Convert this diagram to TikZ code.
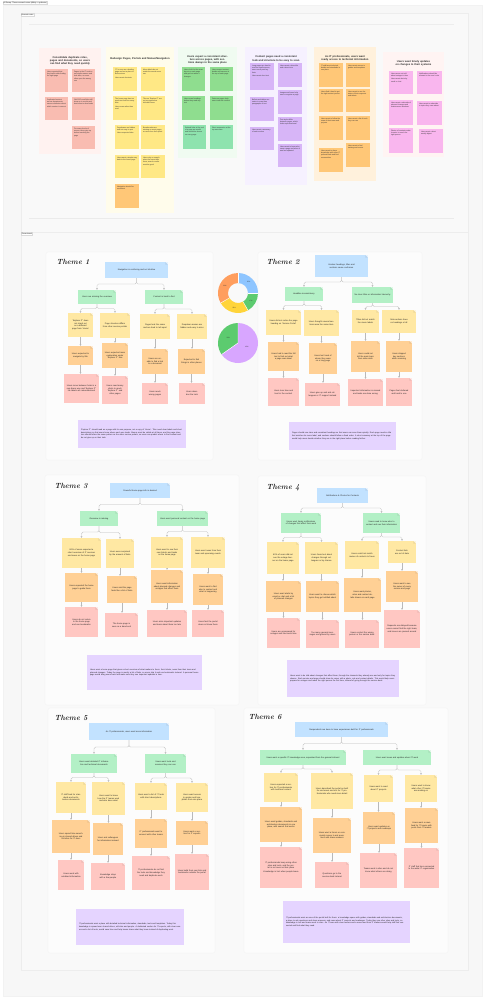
\documentclass[tikz,border=0pt]{standalone}
\usepackage{fontspec}
\setsansfont{Liberation Sans}
\usetikzlibrary{calc,arrows.meta,shadows}
\definecolor{cBlue}{HTML}{C2E2FF}
\definecolor{cGreen}{HTML}{B3F0C6}
\definecolor{cYellow}{HTML}{FFE8A3}
\definecolor{cOrange}{HTML}{FFD095}
\definecolor{cRed}{HTML}{FFC7C2}
\definecolor{cPurple}{HTML}{E5D4FF}
\definecolor{sSalmon}{HTML}{F9BCB1}
\definecolor{sYellow}{HTML}{FFE885}
\definecolor{sGreen}{HTML}{8FDD8F}
\definecolor{sTeal}{HTML}{8EE3AE}
\definecolor{sPurple}{HTML}{D7B5F7}
\definecolor{sOrange}{HTML}{FFC777}
\definecolor{sPink}{HTML}{F9B6EE}
\definecolor{bSalmon}{HTML}{FFF2F0}
\definecolor{bYellow}{HTML}{FFFCEB}
\definecolor{bGreen}{HTML}{F0FBF1}
\definecolor{bPurple}{HTML}{F6F1FF}
\definecolor{bOrange}{HTML}{FFF1DC}
\definecolor{bPink}{HTML}{FFF4F3}
\definecolor{pageBg}{HTML}{F7F7F7}
\definecolor{secBg}{HTML}{F9F9F9}
\definecolor{panBg}{HTML}{FCFCFC}
\definecolor{dBlue}{HTML}{8EC5FF}
\definecolor{dGreen}{HTML}{5CCB6F}
\definecolor{dYellow}{HTML}{FFD43B}
\definecolor{dOrange}{HTML}{FF9E5E}
\definecolor{dPurple}{HTML}{D8A6FF}
\tikzset{
  tnode/.style={rectangle, inner sep=1pt, align=center, text=black!85,
    font=\sffamily\fontsize{2.1}{2.7}\selectfont,
    general shadow={fill=black,opacity=.07,shadow xshift=.3pt,shadow yshift=-.4pt},
    path picture={
      \fill[white,opacity=.6] ([xshift=-2.6pt]path picture bounding box.north east) -- (path picture bounding box.north east) -- ([yshift=-2.6pt]path picture bounding box.north east) -- cycle;
      \fill[black,opacity=.07] ([xshift=-2.6pt]path picture bounding box.north east) -- ([yshift=-2.6pt]path picture bounding box.north east) -- ([xshift=-2.6pt,yshift=-2.6pt]path picture bounding box.north east) -- cycle;}},
  snode/.style={rectangle, inner sep=2pt, text=black!80,
    font=\sffamily\fontsize{1.8}{2.3}\selectfont,
    general shadow={fill=black,opacity=.07,shadow xshift=.3pt,shadow yshift=-.4pt}},
  ctitle/.style={anchor=north, align=center, text=black!85, font=\sffamily\bfseries\fontsize{2.6}{3.2}\selectfont},
  pnote/.style={rectangle, fill=cPurple, inner sep=3pt, align=left, text=black!85, font=\sffamily\fontsize{2}{2.6}\selectfont},
  theme/.style={anchor=west, font=\rmfamily\bfseries\itshape\fontsize{7.5}{8}\selectfont, text=black!85},
  panel/.style={fill=panBg, draw=black!6, line width=.3pt, rounded corners=1.5pt},
  conn/.style={draw=gray!55, line width=.35pt, rounded corners=1.5pt, -{Stealth[length=1.7pt,width=1.7pt]}},
  treeto/.style={to path={(\tikztostart) |- ($(\tikztostart)!.5!(\tikztotarget)$) -| (\tikztotarget)}},
  tinylab/.style={font=\sffamily\fontsize{1.6}{2}\selectfont, text=black!80},
}
\newcommand\tn[7]{%
  \pgfmathsetmacro\mynw{#4-#2}\pgfmathsetmacro\mynh{#5-#3}\pgfmathsetmacro\mytw{#4-#2-5}%
  \node[tnode,fill=#6,minimum width=\mynw pt,minimum height=\mynh pt,text width=\mytw pt] (#1) at ({(#2+#4)/2},{(#3+#5)/2}) {#7};}
\newcommand\sn[7]{%
  \pgfmathsetmacro\mynw{#4-#2}\pgfmathsetmacro\mynh{#5-#3-4}\pgfmathsetmacro\mytw{#4-#2-4}%
  \node[snode,fill=#6,minimum width=\mynw pt,minimum height=\mynh pt+4pt] (#1) at ({(#2+#4)/2},{(#3+#5)/2}) {\parbox[c][\mynh pt][t]{\mytw pt}{\raggedright #7}};}
\newcommand\pn[6]{%
  \pgfmathsetmacro\mynw{#4-#2}\pgfmathsetmacro\mynh{#5-#3}\pgfmathsetmacro\mytw{#4-#2-6}%
  \node[pnote,minimum width=\mynw pt,minimum height=\mynh pt,text width=\mytw pt] (#1) at ({(#2+#4)/2},{(#3+#5)/2}) {#6};}
\newcommand\tr[2]{\draw[conn] (#1.south) to[treeto] (#2.north);}
\newcommand\vl[2]{\draw[conn] (#1.south) -- (#1.south |- #2.north);}
\begin{document}
\begin{tikzpicture}[x=1pt,y=-1pt]
\useasboundingbox (0,0) rectangle (486,1000);
\fill[white] (0,0) rectangle (486,1000);
% page frame
\path[fill=pageBg, draw=black!5, line width=.3pt] (3,5) rectangle (482,996);
\node[draw=black!15, fill=white, line width=.2pt, inner sep=.6pt, anchor=north west, font=\sffamily\fontsize{1.8}{2}\selectfont] (hdr) at (3,1) {AI Recap: Theme research notes (affinity + synthesis)};
% section 1
\path[fill=secBg, draw=black!7, line width=.3pt] (21,13) rectangle (468,232);
\node[draw=black!15, fill=white, line width=.2pt, inner sep=.5pt, anchor=north west, font=\sffamily\fontsize{1.7}{2}\selectfont] (lab1) at (21,13.5) {Research notes};
\draw[black!7, line width=.3pt] (29,24) -- (454,24);
\draw[black!8, line width=.3pt] (29,218) -- (454,218);
% section 2
\path[fill=secBg, draw=black!7, line width=.3pt] (21,232) rectangle (468,970);
\node[draw=black!15, fill=white, line width=.2pt, inner sep=.5pt, anchor=north west, font=\sffamily\fontsize{1.7}{2}\selectfont] (lab2) at (21,232.5) {Theme board};

% ================= TOP CLUSTERS =================
% cluster 1
\fill[bSalmon] (39,48) rectangle (101,154);
\node[ctitle,text width=58pt] (c1t) at (70,53) {Consolidate duplicate roles, pages and documents, so users can find what they need quickly};
\sn{c1a}{45}{69}{68}{92}{sSalmon}{Users reported that they had trouble finding the right page}
\sn{c1b}{72}{69}{95}{92}{sSalmon}{Pages in the IT section use similar names and look alike, so users often open the wrong one}
\sn{c1c}{45}{97}{68}{120}{sSalmon}{Duplicated content across departments causes confusion about which version is current}
\sn{c1d}{72}{97}{95}{120}{sSalmon}{Old PDFs and links still show up in results and lead users to dead ends}
\sn{c1e}{72}{126}{95}{149}{sSalmon}{Too many levels of menus; users give up before reaching the page}
% cluster 2
\fill[bYellow] (106,47) rectangle (174,213);
\node[ctitle,text width=64pt] (c2t) at (140,54) {Redesign Pages, Portals and Menus/Navigation};
\sn{c2a}{113}{67}{137}{91}{sYellow}{'IT' is seen as a landing page and not a place to find services\\[1pt] Users want shortcuts}
\sn{c2b}{141}{67}{165}{91}{sYellow}{Menu labels do not match the words users use}
\sn{c2c}{113}{96}{137}{120}{sYellow}{The home page has too much text and too many links\\[1pt] Users scan rather than read}
\sn{c2d}{141}{96}{165}{120}{sYellow}{Tiles on 'Explore IT' are not recognised as clickable items}
\sn{c2e}{115}{125}{139}{149}{sYellow}{Dropdowns are hidden and not easy to spot\\[1pt] Users expected tabs}
\sn{c2f}{141}{125}{165}{149}{sYellow}{Breadcrumbs are missing on most pages, so users lose their place}
\sn{c2g}{115}{155}{139}{178}{sYellow}{Users want a simple way back to the home page}
\sn{c2h}{141}{155}{165}{178}{sYellow}{Users rely on search when the menu fails them; search results must be good}
\sn{c2i}{115}{184}{139}{208}{sOrange}{Navigation should be consistent}
% cluster 3
\fill[bGreen] (178,47) rectangle (237,158);
\node[ctitle,text width=56pt] (c3t) at (207.5,52) {Users expect a consistent structure across pages, with sections always in the same place};
\sn{c3a}{182}{67}{205}{91}{sGreen}{Users look for the same layout on each page and get lost when it changes}
\sn{c3b}{210}{67}{233}{91}{sGreen}{Users expect contact details and owners at the top of each page}
\sn{c3c}{182}{96}{205}{120}{sGreen}{Users scan headings before they read any text}
\sn{c3d}{210}{96}{233}{120}{sGreen}{Dates on pages help users trust the content}
\sn{c3e}{183}{125}{206}{149}{sTeal}{Related links at the end of a page are useful and should be shown on every page}
\sn{c3f}{210}{125}{233}{149}{sTeal}{Short summaries at the top save time}
% cluster 4
\fill[bPurple] (245,47) rectangle (307,185);
\node[ctitle,text width=58pt] (c4t) at (276,52.5) {Content pages need a consistent look and structure to be easy to scan};
\sn{c4a}{250}{63}{274}{90}{sPurple}{Long pages are hard to read on small screens; users scroll past key facts\\[1pt] Users want short text}
\sn{c4b}{278}{63}{302}{87}{sPurple}{Users want a clear title and a short intro}
\sn{c4c}{250}{97}{274}{121}{sPurple}{Bullets and tables are easier to scan than paragraphs of text}
\sn{c4d}{278}{90}{302}{114}{sPurple}{Images and icons help users recognise a page}
\sn{c4e}{250}{127}{274}{150}{sPurple}{Users want a summary of each section}
\sn{c4f}{278}{117}{302}{141}{sPurple}{Text styles differ between pages, which looks unprofessional}
\sn{c4g}{278}{144}{302}{167}{sPurple}{Users want to know who owns a page and when it was last updated}
% cluster 5
\fill[bOrange] (314,47) rectangle (376,181);
\node[ctitle,text width=58pt] (c5t) at (345,52) {As IT professionals, users want ready access to technical information};
\sn{c5a}{319}{63}{343}{87}{sOrange}{IT staff want technical details and standards in one place}
\sn{c5b}{346}{63}{370}{87}{sOrange}{Users want access to guides and templates}
\sn{c5c}{319}{89}{343}{112}{sOrange}{Users find it hard to get the right contact person}
\sn{c5d}{346}{89}{370}{112}{sOrange}{Users want to see the status of their requests and tickets}
\sn{c5e}{319}{116}{343}{140}{sOrange}{Users want to follow the news of their team and projects}
\sn{c5f}{346}{116}{370}{140}{sOrange}{Users want a list of tools they can use}
\sn{c5g}{319}{148}{343}{172}{sOrange}{Users want to share knowledge with other IT professionals and find communities}
\sn{c5h}{346}{143}{370}{167}{sOrange}{Users want to find training and events}
% cluster 6
\fill[bPink] (383,52) rectangle (444,157);
\node[ctitle,text width=58pt] (c6t) at (413.5,57) {Users want timely updates on changes to their systems};
\sn{c6a}{389}{71}{413}{94}{sPink}{Users were not told about outages in time\\[1pt] Users want alerts by email or chat}
\sn{c6b}{417}{71}{442}{94}{sPink}{Notifications should be relevant to the user's role}
\sn{c6c}{389}{100}{413}{125}{sPink}{Users want a calendar of planned changes and maintenance windows}
\sn{c6d}{417}{101}{442}{125}{sPink}{Users want to subscribe to topics they care about}
\sn{c6e}{389}{128}{413}{153}{sPink}{Photos of contacts make it easier to reach the right person}
\sn{c6f}{419}{129}{443}{153}{sPink}{Users want a short weekly digest}

% ================= THEME PANELS =================
\path[panel] (46,252) rectangle (213,460);
\path[panel] (258,252) rectangle (422,460);
\path[panel] (45,475) rectangle (239,705);
\path[panel] (258,476) rectangle (426,705);
\path[panel] (48,708) rectangle (215,953);
\path[panel] (244,708) rectangle (448,953);

% ---------- Theme 1 ----------
\node[theme] (th1) at (53,262) {Theme 1};
\tn{r1}{105}{262}{168}{278}{cBlue}{Navigation is confusing and not intuitive}
\tn{g1a}{78}{290}{116}{304}{cGreen}{Users are missing the overview}
\tn{g1b}{145}{290}{183}{304}{cGreen}{Content is hard to find}
\tn{y1a}{68}{313}{93}{337}{cYellow}{'Explore IT' does not stand out as a different page from 'Home'}
\tn{y1b}{100}{313}{130}{338}{cYellow}{Page structure differs from other service portals}
\tn{y1c}{140}{314}{170}{339}{cYellow}{Pages look the same and are hard to tell apart}
\tn{y1d}{177}{314}{207}{339}{cYellow}{Dropdown menus are hidden and easy to miss}
\tn{o1a}{68}{346}{93}{365}{cOrange}{Users expected to navigate by title}
\tn{o1b}{102}{343}{128}{368}{cOrange}{Users expected more explanation under 'Explore IT' tiles}
\tn{o1c}{142}{349}{168}{374}{cOrange}{Users are unable to find a link to a document}
\tn{o1d}{178}{349}{205}{374}{cOrange}{Expected to find things in other places}
\tn{r1a}{64}{374}{99}{403}{cRed}{Users move between hubs in a non-linear way and 'Explore IT' tile labels are misunderstood}
\tn{r1b}{102}{376}{128}{404}{cRed}{Users need many clicks to reach 'Explore IT' and other pages}
\tn{r1c}{142}{383}{168}{404}{cRed}{Users reach wrong pages}
\tn{r1d}{179}{383}{205}{404}{cRed}{Users abandon the task}
\tr{r1}{g1a}\tr{r1}{g1b}
\tr{g1a}{y1a}\tr{g1a}{y1b}\tr{g1b}{y1c}\tr{g1b}{y1d}
\vl{y1a}{o1a}\vl{y1b}{o1b}\vl{y1c}{o1c}\vl{y1d}{o1d}
\vl{o1a}{r1a}\vl{o1b}{r1b}\vl{o1c}{r1c}\vl{o1d}{r1d}
\pn{n1}{78}{420}{186}{448}{'Explore IT' should read as a page with its own purpose, not a copy of 'Home'. Tiles need clear labels and short descriptions so that users know where each one leads. Menus must be visible at all times, and the page structure should follow the same pattern as the other service portals, so users can predict where to find content and do not give up on their task.}

% ---------- donut + pie ----------
\begin{scope}[shift={(238,293)},y=1pt]
  \fill[dBlue]   (90:20) arc (90:0:20) -- (0:10) arc (0:90:10) -- cycle;
  \fill[dGreen]  (0:20) arc (0:-60:20) -- (-60:10) arc (-60:0:10) -- cycle;
  \fill[dYellow] (-60:20) arc (-60:-150:20) -- (-150:10) arc (-150:-60:10) -- cycle;
  \fill[dOrange] (-150:20) arc (-150:-270:20) -- (-270:10) arc (-270:-150:10) -- cycle;
  \foreach \a in {90,0,-60,-150} \draw[white,line width=.4pt] (\a:10) -- (\a:20);
  \node[tinylab] (dl1) at (45:15) {25\%};
  \node[tinylab] (dl2) at (-30:15) {17\%};
  \node[tinylab] (dl3) at (-105:15) {25\%};
  \node[tinylab] (dl4) at (150:15) {33\%};
\end{scope}
\begin{scope}[shift={(238,343)},y=1pt]
  \fill[dGreen]  (0,0) -- (90:20) arc (90:215:20) -- cycle;
  \fill[dPurple] (0,0) -- (215:20) arc (215:450:20) -- cycle;
  \draw[white,line width=.4pt] (0,0) -- (90:20) (0,0) -- (215:20);
  \node[tinylab] (pl1) at (152:11) {35\%};
  \node[tinylab] (pl2) at (-25:10) {65\%};
\end{scope}

% ---------- Theme 2 ----------
\node[theme] (th2) at (263,262) {Theme 2};
\tn{r2}{315}{255}{368}{277}{cBlue}{Unclear headings, titles and sections cause confusion}
\tn{g2a}{285}{287}{323}{301}{cGreen}{Headline inconsistency}
\tn{g2b}{352}{287}{393}{303}{cGreen}{No clear titles or information hierarchy}
\tn{y2a}{266}{310}{301}{335}{cYellow}{Users did not notice the page heading on 'Service Portal'}
\tn{y2b}{304}{310}{339}{336}{cYellow}{Users thought several sections were the same item}
\tn{y2c}{352}{310}{379}{333}{cYellow}{Titles did not match the menu labels}
\tn{y2d}{382}{310}{416}{333}{cYellow}{Sub-sections have no headings at all}
\tn{o2a}{268}{342}{299}{371}{cOrange}{Users had to read the full text to find out what a page was about}
\tn{o2b}{309}{343}{337}{374}{cOrange}{Users lost track of where they were on a long page}
\tn{o2c}{351}{341}{380}{372}{cOrange}{Users could not tell the main topic from side notes}
\tn{o2d}{386}{341}{412}{372}{cOrange}{Users skipped key sections while scanning}
\tn{r2a}{268}{378}{299}{406}{cRed}{Users lose time and trust in the content}
\tn{r2b}{305}{383}{340}{406}{cRed}{Users give up and ask colleagues or IT support instead}
\tn{r2c}{348}{379}{383}{406}{cRed}{Important information is missed and tasks are done wrong}
\tn{r2d}{386}{378}{412}{406}{cRed}{Pages feel cluttered and hard to use}
\tr{r2}{g2a}\tr{r2}{g2b}
\tr{g2a}{y2a}\tr{g2a}{y2b}\tr{g2b}{y2c}\tr{g2b}{y2d}
\vl{y2a}{o2a}\vl{y2b}{o2b}\vl{y2c}{o2c}\vl{y2d}{o2d}
\vl{o2a}{r2a}\vl{o2b}{r2b}\vl{o2c}{r2c}\vl{o2d}{r2d}
\pn{n2}{289}{422}{396}{450}{Pages should use clear and consistent headings so that users can scan them quickly. Each page needs a title that matches its menu label, and sections should follow a fixed order. A short summary at the top of the page would help users decide whether they are in the right place before reading further.}

% ---------- Theme 3 ----------
\node[theme] (th3) at (51,486) {Theme 3};
\tn{r3}{110}{483}{170}{498}{cBlue}{Powerful home page info is desired}
\tn{g3a}{80}{511}{118}{526}{cGreen}{Overview is missing}
\tn{g3b}{157}{511}{208}{526}{cGreen}{Users want personal content on the home page}
\tn{y3a}{62}{538}{101}{568}{cYellow}{80\% of users expected a short overview of IT services and news on the home page}
\tn{y3b}{106}{539}{134}{568}{cYellow}{Users were surprised by the amount of links}
\tn{y3c}{151}{537}{183}{568}{cYellow}{Users want to see their own tickets and tasks on the home page}
\tn{y3d}{191}{537}{225}{568}{cYellow}{Users want news from their team and upcoming events}
\tn{o3a}{65}{573}{98}{602}{cOrange}{Users expected the home page to guide them}
\tn{o3b}{107}{576}{137}{603}{cOrange}{Users said the page feels like a list of links}
\tn{o3c}{151}{570}{183}{603}{cOrange}{Users want information about planned changes and outages that affect them}
\tn{o3d}{193}{574}{223}{605}{cOrange}{Users want to find who to contact and what is happening}
\tn{r3a}{65}{607}{98}{637}{cRed}{Users do not return to the home page and use bookmarks}
\tn{r3b}{105}{613}{138}{637}{cRed}{The home page is seen as a dead end}
\tn{r3c}{147}{610}{187}{637}{cRed}{Users miss important updates and learn about them too late}
\tn{r3d}{192}{610}{224}{637}{cRed}{Users feel the portal does not know them}
\tr{r3}{g3a}\tr{r3}{g3b}
\tr{g3a}{y3a}\tr{g3a}{y3b}\tr{g3b}{y3c}\tr{g3b}{y3d}
\vl{y3a}{o3a}\vl{y3b}{o3b}\vl{y3c}{o3c}\vl{y3d}{o3d}
\vl{o3a}{r3a}\vl{o3b}{r3b}\vl{o3c}{r3c}\vl{o3d}{r3d}
\pn{n3}{87}{655}{202}{690}{Users want a home page that gives a short overview of what matters to them: their tickets, news from their team and planned changes. Today the page is mostly a list of links, so users skip it and use bookmarks instead. A personal home page would bring users back and make sure they see important updates in time.}

% ---------- Theme 4 ----------
\node[theme] (th4) at (263,488) {Theme 4};
\tn{r4}{317}{488}{368}{503}{cBlue}{Notifications \& Photos for Contacts}
\tn{g4a}{281}{513}{321}{533}{cGreen}{Users want timely notifications of changes that affect their work}
\tn{g4b}{363}{513}{400}{533}{cGreen}{Users need to know who to contact and see their information}
\tn{y4a}{267}{542}{299}{574}{cYellow}{60\% of users did not see the outage banner on the home page}
\tn{y4b}{305}{542}{338}{574}{cYellow}{Users found out about changes through colleagues or by chance}
\tn{y4c}{345}{541}{379}{569}{cYellow}{Users could not match names of contacts to faces}
\tn{y4d}{388}{541}{416}{563}{cYellow}{Contact lists are out of date}
\tn{o4a}{266}{581}{301}{612}{cOrange}{Users want alerts by email or chat and a list of planned changes}
\tn{o4b}{306}{581}{339}{612}{cOrange}{Users want to choose which topics they get notified about}
\tn{o4c}{344}{578}{381}{612}{cOrange}{Users want photos, roles and contact details shown on each page}
\tn{o4d}{386}{571}{418}{602}{cOrange}{Users want to see the owner of every service and page}
\tn{r4a}{267}{618}{300}{648}{cRed}{Users are unprepared for outages and lose work time}
\tn{r4b}{306}{620}{339}{648}{cRed}{Too many general messages are ignored by users}
\tn{r4c}{345}{620}{379}{648}{cRed}{Users contact the wrong person or the service desk}
\tn{r4d}{384}{610}{420}{648}{cRed}{Requests are delayed because users cannot find the right team, and issues are passed around}
\tr{r4}{g4a}\tr{r4}{g4b}
\tr{g4a}{y4a}\tr{g4a}{y4b}\tr{g4b}{y4c}\tr{g4b}{y4d}
\vl{y4a}{o4a}\vl{y4b}{o4b}\vl{y4c}{o4c}\vl{y4d}{o4d}
\vl{o4a}{r4a}\vl{o4b}{r4b}\vl{o4c}{r4c}\vl{o4d}{r4d}
\pn{n4}{287}{660}{399}{697}{Users want to be told about changes that affect them, through the channels they already use and only for topics they choose. Each service and page should show its owner with a photo, role and contact details. This would help users prepare for outages and reach the right person the first time, instead of going through the service desk.}

% ---------- Theme 5 ----------
\node[theme] (th5) at (51,718) {Theme 5};
\tn{r5}{89}{723}{169}{740}{cBlue}{As IT professionals, users want more information}
\tn{g5a}{71}{754}{117}{773}{cGreen}{Users want detailed IT information and technical documents}
\tn{g5b}{145}{754}{186}{773}{cGreen}{Users want tools and services they can use}
\tn{y5a}{56}{782}{86}{813}{cYellow}{IT staff look for standards and architecture documents}
\tn{y5b}{92}{782}{125}{815}{cYellow}{Users want to know how the IT teams work and who does what}
\tn{y5c}{135}{783}{167}{810}{cYellow}{Users want a list of IT tools with short descriptions}
\tn{y5d}{176}{783}{208}{812}{cYellow}{Users want access to guides and templates from one place}
\tn{o5a}{52}{820}{90}{853}{cOrange}{Users spend time searching in shared drives and old sites for IT docs}
\tn{o5b}{93}{823}{123}{855}{cOrange}{Users ask colleagues for information instead}
\tn{o5c}{135}{819}{167}{848}{cOrange}{IT professionals want to connect with other teams}
\tn{o5d}{176}{821}{208}{845}{cOrange}{Users want a section for IT experts}
\tn{r5a}{58}{860}{84}{890}{cRed}{Users work with outdated information}
\tn{r5b}{91}{863}{125}{890}{cRed}{Knowledge stays with a few people}
\tn{r5c}{132}{856}{170}{890}{cRed}{IT professionals do not find the tools and knowledge they need and duplicate work}
\tn{r5d}{175}{854}{209}{890}{cRed}{Users build their own lists and bookmarks outside the portal}
\tr{r5}{g5a}\tr{r5}{g5b}
\tr{g5a}{y5a}\tr{g5a}{y5b}\tr{g5b}{y5c}\tr{g5b}{y5d}
\vl{y5a}{o5a}\vl{y5b}{o5b}\vl{y5c}{o5c}\vl{y5d}{o5d}
\vl{o5a}{r5a}\vl{o5b}{r5b}\vl{o5c}{r5c}\vl{o5d}{r5d}
\pn{n5}{76}{909}{184}{945}{IT professionals want a place with detailed technical information, standards, tools and templates. Today this knowledge is spread over shared drives, old sites and people. A dedicated section for IT experts, with clear owners and a list of tools, would save time and help teams share what they know instead of duplicating work.}

% ---------- Theme 6 ----------
\node[theme] (th6) at (245,717) {Theme 6};
\tn{r6}{295}{722}{388}{737}{cBlue}{Respondents are keen to have experiences built for IT professionals}
\tn{g6a}{260}{750}{346}{765}{cGreen}{Users want a specific IT knowledge area, separated from the general intranet}
\tn{g6b}{363}{750}{431}{765}{cGreen}{Users want news and updates about IT work}
\tn{y6a}{264}{773}{298}{802}{cYellow}{Users expected a section for IT professionals with technical content}
\tn{y6b}{311}{773}{353}{809}{cYellow}{Users described the portal as built for end users and not for IT professionals who need more detail}
\tn{y6c}{364}{775}{393}{802}{cYellow}{Users want to read about IT projects}
\tn{y6d}{405}{775}{437}{802}{cYellow}{Users want to know what other IT teams are working on}
\tn{o6a}{260}{807}{302}{842}{cOrange}{Users want guides, standards and architecture documents in one place, with search that works}
\tn{o6b}{313}{818}{351}{853}{cOrange}{Users want a forum or community space to ask questions and share answers}
\tn{o6c}{363}{812}{395}{844}{cOrange}{Users want updates on IT projects and roadmaps}
\tn{o6d}{405}{808}{438}{843}{cOrange}{Users want a news feed for IT teams with posts from IT leaders}
\tn{r6a}{260}{847}{302}{888}{cRed}{IT professionals keep using other sites and tools, and the portal is not seen as their place\\[1pt] Knowledge is lost when people leave}
\tn{r6b}{315}{862}{349}{888}{cRed}{Questions go to the service desk instead}
\tn{r6c}{360}{853}{397}{888}{cRed}{Teams work in silos and do not know what others are doing}
\tn{r6d}{404}{848}{439}{888}{cRed}{IT staff feel less connected to the wider IT organisation}
\tr{r6}{g6a}\tr{r6}{g6b}
\tr{g6a}{y6a}\tr{g6a}{y6b}\tr{g6b}{y6c}\tr{g6b}{y6d}
\vl{y6a}{o6a}\vl{y6b}{o6b}\vl{y6c}{o6c}\vl{y6d}{o6d}
\vl{o6a}{r6a}\vl{o6b}{r6b}\vl{o6c}{r6c}\vl{o6d}{r6d}
\pn{n6}{283}{901}{410}{943}{IT professionals want an area of the portal built for them: a knowledge space with guides, standards and architecture documents, a place to ask questions and share answers, and news about IT projects and roadmaps. Today they use other sites and tools, so knowledge is lost and teams work in silos. An IT area with clear owners and a news feed from IT leaders would help staff feel connected and find what they need.}
\end{tikzpicture}
\end{document}
